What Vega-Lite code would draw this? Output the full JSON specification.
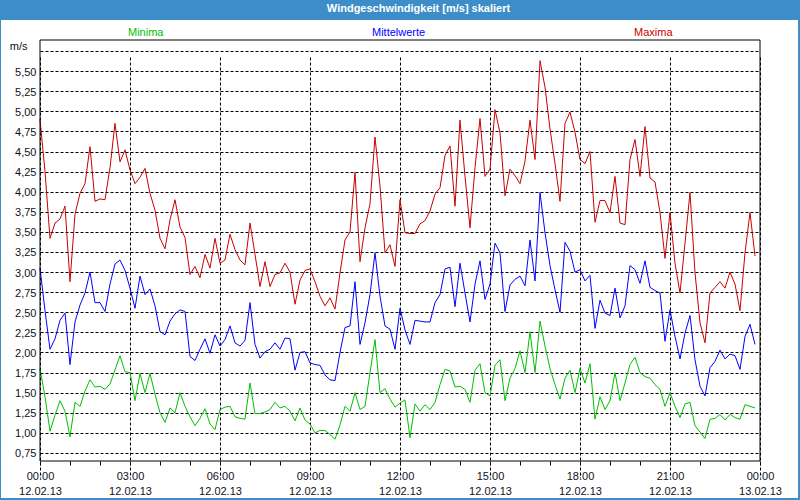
{
  "$schema": "https://vega.github.io/schema/vega-lite/v6.json",
  "autosize": {"type": "none"},
  "width": 797,
  "height": 478,
  "padding": {"top": 20, "left": 1, "right": 2, "bottom": 2},
  "background": "#3d8ec8",
  "config": {
    "view": {"fill": "white", "stroke": null},
    "font": "Liberation Sans"
  },
  "title": {
    "text": "Windgeschwindigkeit [m/s] skaliert",
    "color": "white",
    "fontSize": 11,
    "fontWeight": "bold",
    "font": "Liberation Sans",
    "anchor": "middle",
    "baseline": "middle",
    "offset": 10,
    "dx": 19,
    "dy": 10
  },
  "data": {
    "values": [
      {"t":"2013-02-12T00:00","Minima":1.80,"Mittelwerte":3.05,"Maxima":4.90},
      {"t":"2013-02-12T00:10","Minima":1.45,"Mittelwerte":2.52,"Maxima":4.25},
      {"t":"2013-02-12T00:20","Minima":1.02,"Mittelwerte":2.04,"Maxima":3.42},
      {"t":"2013-02-12T00:30","Minima":1.22,"Mittelwerte":2.17,"Maxima":3.61},
      {"t":"2013-02-12T00:40","Minima":1.40,"Mittelwerte":2.40,"Maxima":3.66},
      {"t":"2013-02-12T00:50","Minima":1.27,"Mittelwerte":2.49,"Maxima":3.82},
      {"t":"2013-02-12T01:00","Minima":0.95,"Mittelwerte":1.85,"Maxima":2.88},
      {"t":"2013-02-12T01:10","Minima":1.38,"Mittelwerte":2.38,"Maxima":3.72},
      {"t":"2013-02-12T01:20","Minima":1.33,"Mittelwerte":2.59,"Maxima":3.98},
      {"t":"2013-02-12T01:30","Minima":1.52,"Mittelwerte":2.74,"Maxima":4.10},
      {"t":"2013-02-12T01:40","Minima":1.66,"Mittelwerte":3.00,"Maxima":4.56},
      {"t":"2013-02-12T01:50","Minima":1.57,"Mittelwerte":2.62,"Maxima":3.88},
      {"t":"2013-02-12T02:00","Minima":1.58,"Mittelwerte":2.62,"Maxima":3.91},
      {"t":"2013-02-12T02:10","Minima":1.54,"Mittelwerte":2.51,"Maxima":3.90},
      {"t":"2013-02-12T02:20","Minima":1.61,"Mittelwerte":2.85,"Maxima":4.30},
      {"t":"2013-02-12T02:30","Minima":1.78,"Mittelwerte":3.10,"Maxima":4.85},
      {"t":"2013-02-12T02:40","Minima":1.96,"Mittelwerte":3.15,"Maxima":4.37},
      {"t":"2013-02-12T02:50","Minima":1.76,"Mittelwerte":3.02,"Maxima":4.52},
      {"t":"2013-02-12T03:00","Minima":1.75,"Mittelwerte":2.80,"Maxima":4.27},
      {"t":"2013-02-12T03:10","Minima":1.40,"Mittelwerte":2.55,"Maxima":4.10},
      {"t":"2013-02-12T03:20","Minima":1.74,"Mittelwerte":2.95,"Maxima":4.18},
      {"t":"2013-02-12T03:30","Minima":1.50,"Mittelwerte":2.72,"Maxima":4.29},
      {"t":"2013-02-12T03:40","Minima":1.74,"Mittelwerte":2.79,"Maxima":3.98},
      {"t":"2013-02-12T03:50","Minima":1.48,"Mittelwerte":2.58,"Maxima":3.77},
      {"t":"2013-02-12T04:00","Minima":1.25,"Mittelwerte":2.26,"Maxima":3.42},
      {"t":"2013-02-12T04:10","Minima":1.13,"Mittelwerte":2.22,"Maxima":3.29},
      {"t":"2013-02-12T04:20","Minima":1.31,"Mittelwerte":2.39,"Maxima":3.65},
      {"t":"2013-02-12T04:30","Minima":1.25,"Mittelwerte":2.48,"Maxima":3.90},
      {"t":"2013-02-12T04:40","Minima":1.50,"Mittelwerte":2.53,"Maxima":3.56},
      {"t":"2013-02-12T04:50","Minima":1.33,"Mittelwerte":2.51,"Maxima":3.43},
      {"t":"2013-02-12T05:00","Minima":1.20,"Mittelwerte":1.95,"Maxima":2.97},
      {"t":"2013-02-12T05:10","Minima":1.09,"Mittelwerte":1.90,"Maxima":3.07},
      {"t":"2013-02-12T05:20","Minima":1.18,"Mittelwerte":2.04,"Maxima":2.93},
      {"t":"2013-02-12T05:30","Minima":1.30,"Mittelwerte":2.17,"Maxima":3.22},
      {"t":"2013-02-12T05:40","Minima":1.11,"Mittelwerte":1.99,"Maxima":3.05},
      {"t":"2013-02-12T05:50","Minima":1.04,"Mittelwerte":2.22,"Maxima":3.42},
      {"t":"2013-02-12T06:00","Minima":1.29,"Mittelwerte":2.08,"Maxima":3.11},
      {"t":"2013-02-12T06:10","Minima":1.32,"Mittelwerte":2.16,"Maxima":3.15},
      {"t":"2013-02-12T06:20","Minima":1.33,"Mittelwerte":2.33,"Maxima":3.47},
      {"t":"2013-02-12T06:30","Minima":1.20,"Mittelwerte":2.12,"Maxima":3.28},
      {"t":"2013-02-12T06:40","Minima":1.18,"Mittelwerte":2.08,"Maxima":3.15},
      {"t":"2013-02-12T06:50","Minima":1.17,"Mittelwerte":2.15,"Maxima":3.09},
      {"t":"2013-02-12T07:00","Minima":1.62,"Mittelwerte":2.62,"Maxima":3.61},
      {"t":"2013-02-12T07:10","Minima":1.24,"Mittelwerte":2.10,"Maxima":3.22},
      {"t":"2013-02-12T07:20","Minima":1.24,"Mittelwerte":1.93,"Maxima":2.82},
      {"t":"2013-02-12T07:30","Minima":1.26,"Mittelwerte":2.01,"Maxima":3.13},
      {"t":"2013-02-12T07:40","Minima":1.29,"Mittelwerte":2.04,"Maxima":2.82},
      {"t":"2013-02-12T07:50","Minima":1.38,"Mittelwerte":2.12,"Maxima":2.97},
      {"t":"2013-02-12T08:00","Minima":1.31,"Mittelwerte":2.04,"Maxima":2.99},
      {"t":"2013-02-12T08:10","Minima":1.33,"Mittelwerte":2.18,"Maxima":3.11},
      {"t":"2013-02-12T08:20","Minima":1.27,"Mittelwerte":2.17,"Maxima":3.00},
      {"t":"2013-02-12T08:30","Minima":1.15,"Mittelwerte":1.78,"Maxima":2.60},
      {"t":"2013-02-12T08:40","Minima":1.31,"Mittelwerte":2.00,"Maxima":2.90},
      {"t":"2013-02-12T08:50","Minima":1.16,"Mittelwerte":2.01,"Maxima":3.02},
      {"t":"2013-02-12T09:00","Minima":1.11,"Mittelwerte":1.87,"Maxima":3.04},
      {"t":"2013-02-12T09:10","Minima":1.00,"Mittelwerte":1.85,"Maxima":2.88},
      {"t":"2013-02-12T09:20","Minima":1.03,"Mittelwerte":1.84,"Maxima":2.70},
      {"t":"2013-02-12T09:30","Minima":1.03,"Mittelwerte":1.72,"Maxima":2.58},
      {"t":"2013-02-12T09:40","Minima":0.98,"Mittelwerte":1.66,"Maxima":2.68},
      {"t":"2013-02-12T09:50","Minima":0.92,"Mittelwerte":1.65,"Maxima":2.54},
      {"t":"2013-02-12T10:00","Minima":1.10,"Mittelwerte":2.00,"Maxima":2.99},
      {"t":"2013-02-12T10:10","Minima":1.33,"Mittelwerte":2.31,"Maxima":3.40},
      {"t":"2013-02-12T10:20","Minima":1.27,"Mittelwerte":2.33,"Maxima":3.50},
      {"t":"2013-02-12T10:30","Minima":1.50,"Mittelwerte":2.88,"Maxima":4.24},
      {"t":"2013-02-12T10:40","Minima":1.29,"Mittelwerte":2.10,"Maxima":3.13},
      {"t":"2013-02-12T10:50","Minima":1.33,"Mittelwerte":2.37,"Maxima":3.55},
      {"t":"2013-02-12T11:00","Minima":1.75,"Mittelwerte":2.72,"Maxima":3.85},
      {"t":"2013-02-12T11:10","Minima":2.16,"Mittelwerte":3.24,"Maxima":4.68},
      {"t":"2013-02-12T11:20","Minima":1.50,"Mittelwerte":2.70,"Maxima":4.07},
      {"t":"2013-02-12T11:30","Minima":1.55,"Mittelwerte":2.33,"Maxima":3.24},
      {"t":"2013-02-12T11:40","Minima":1.42,"Mittelwerte":2.29,"Maxima":3.34},
      {"t":"2013-02-12T11:50","Minima":1.32,"Mittelwerte":2.04,"Maxima":3.07},
      {"t":"2013-02-12T12:00","Minima":1.37,"Mittelwerte":2.55,"Maxima":3.90},
      {"t":"2013-02-12T12:10","Minima":1.41,"Mittelwerte":2.28,"Maxima":3.49},
      {"t":"2013-02-12T12:20","Minima":0.94,"Mittelwerte":2.10,"Maxima":3.48},
      {"t":"2013-02-12T12:30","Minima":1.36,"Mittelwerte":2.40,"Maxima":3.48},
      {"t":"2013-02-12T12:40","Minima":1.27,"Mittelwerte":2.39,"Maxima":3.60},
      {"t":"2013-02-12T12:50","Minima":1.35,"Mittelwerte":2.38,"Maxima":3.64},
      {"t":"2013-02-12T13:00","Minima":1.29,"Mittelwerte":2.38,"Maxima":3.76},
      {"t":"2013-02-12T13:10","Minima":1.38,"Mittelwerte":2.62,"Maxima":3.97},
      {"t":"2013-02-12T13:20","Minima":1.60,"Mittelwerte":2.72,"Maxima":4.05},
      {"t":"2013-02-12T13:30","Minima":1.79,"Mittelwerte":3.04,"Maxima":4.45},
      {"t":"2013-02-12T13:40","Minima":1.77,"Mittelwerte":3.06,"Maxima":4.57},
      {"t":"2013-02-12T13:50","Minima":1.57,"Mittelwerte":2.57,"Maxima":3.82},
      {"t":"2013-02-12T14:00","Minima":1.58,"Mittelwerte":3.11,"Maxima":4.89},
      {"t":"2013-02-12T14:10","Minima":1.54,"Mittelwerte":2.74,"Maxima":4.19},
      {"t":"2013-02-12T14:20","Minima":1.38,"Mittelwerte":2.38,"Maxima":3.55},
      {"t":"2013-02-12T14:30","Minima":1.78,"Mittelwerte":2.85,"Maxima":4.30},
      {"t":"2013-02-12T14:40","Minima":1.86,"Mittelwerte":3.14,"Maxima":4.91},
      {"t":"2013-02-12T14:50","Minima":1.50,"Mittelwerte":2.66,"Maxima":4.19},
      {"t":"2013-02-12T15:00","Minima":1.46,"Mittelwerte":2.85,"Maxima":4.28},
      {"t":"2013-02-12T15:10","Minima":1.84,"Mittelwerte":3.36,"Maxima":5.02},
      {"t":"2013-02-12T15:20","Minima":1.91,"Mittelwerte":3.24,"Maxima":4.73},
      {"t":"2013-02-12T15:30","Minima":1.40,"Mittelwerte":2.51,"Maxima":3.95},
      {"t":"2013-02-12T15:40","Minima":1.68,"Mittelwerte":2.84,"Maxima":4.28},
      {"t":"2013-02-12T15:50","Minima":1.80,"Mittelwerte":2.91,"Maxima":4.20},
      {"t":"2013-02-12T16:00","Minima":2.02,"Mittelwerte":2.95,"Maxima":4.10},
      {"t":"2013-02-12T16:10","Minima":1.75,"Mittelwerte":2.83,"Maxima":4.38},
      {"t":"2013-02-12T16:20","Minima":2.26,"Mittelwerte":3.40,"Maxima":4.89},
      {"t":"2013-02-12T16:30","Minima":1.75,"Mittelwerte":2.89,"Maxima":4.40},
      {"t":"2013-02-12T16:40","Minima":2.39,"Mittelwerte":3.99,"Maxima":5.63},
      {"t":"2013-02-12T16:50","Minima":2.08,"Mittelwerte":3.49,"Maxima":5.30},
      {"t":"2013-02-12T17:00","Minima":1.80,"Mittelwerte":3.08,"Maxima":4.78},
      {"t":"2013-02-12T17:10","Minima":1.60,"Mittelwerte":2.78,"Maxima":4.35},
      {"t":"2013-02-12T17:20","Minima":1.42,"Mittelwerte":2.50,"Maxima":3.88},
      {"t":"2013-02-12T17:30","Minima":1.68,"Mittelwerte":3.37,"Maxima":4.85},
      {"t":"2013-02-12T17:40","Minima":1.78,"Mittelwerte":3.26,"Maxima":4.99},
      {"t":"2013-02-12T17:50","Minima":1.50,"Mittelwerte":3.00,"Maxima":4.74},
      {"t":"2013-02-12T18:00","Minima":1.80,"Mittelwerte":3.03,"Maxima":4.40},
      {"t":"2013-02-12T18:10","Minima":1.62,"Mittelwerte":2.89,"Maxima":4.35},
      {"t":"2013-02-12T18:20","Minima":1.86,"Mittelwerte":2.96,"Maxima":4.50},
      {"t":"2013-02-12T18:30","Minima":1.17,"Mittelwerte":2.30,"Maxima":3.62},
      {"t":"2013-02-12T18:40","Minima":1.45,"Mittelwerte":2.65,"Maxima":3.89},
      {"t":"2013-02-12T18:50","Minima":1.29,"Mittelwerte":2.49,"Maxima":3.89},
      {"t":"2013-02-12T19:00","Minima":1.40,"Mittelwerte":2.46,"Maxima":3.74},
      {"t":"2013-02-12T19:10","Minima":1.75,"Mittelwerte":2.80,"Maxima":4.19},
      {"t":"2013-02-12T19:20","Minima":1.40,"Mittelwerte":2.43,"Maxima":3.61},
      {"t":"2013-02-12T19:30","Minima":1.62,"Mittelwerte":2.58,"Maxima":3.59},
      {"t":"2013-02-12T19:40","Minima":1.85,"Mittelwerte":3.08,"Maxima":4.40},
      {"t":"2013-02-12T19:50","Minima":1.94,"Mittelwerte":3.03,"Maxima":4.65},
      {"t":"2013-02-12T20:00","Minima":1.75,"Mittelwerte":2.86,"Maxima":4.19},
      {"t":"2013-02-12T20:10","Minima":1.70,"Mittelwerte":3.14,"Maxima":4.81},
      {"t":"2013-02-12T20:20","Minima":1.68,"Mittelwerte":2.81,"Maxima":4.17},
      {"t":"2013-02-12T20:30","Minima":1.60,"Mittelwerte":2.77,"Maxima":4.12},
      {"t":"2013-02-12T20:40","Minima":1.54,"Mittelwerte":2.74,"Maxima":3.74},
      {"t":"2013-02-12T20:50","Minima":1.33,"Mittelwerte":2.14,"Maxima":3.17},
      {"t":"2013-02-12T21:00","Minima":1.50,"Mittelwerte":2.53,"Maxima":3.74},
      {"t":"2013-02-12T21:10","Minima":1.33,"Mittelwerte":2.20,"Maxima":3.11},
      {"t":"2013-02-12T21:20","Minima":1.19,"Mittelwerte":1.92,"Maxima":2.74},
      {"t":"2013-02-12T21:30","Minima":1.36,"Mittelwerte":2.24,"Maxima":3.36},
      {"t":"2013-02-12T21:40","Minima":1.38,"Mittelwerte":2.46,"Maxima":3.99},
      {"t":"2013-02-12T21:50","Minima":1.09,"Mittelwerte":1.91,"Maxima":2.99},
      {"t":"2013-02-12T22:00","Minima":1.01,"Mittelwerte":1.58,"Maxima":2.37},
      {"t":"2013-02-12T22:10","Minima":0.93,"Mittelwerte":1.46,"Maxima":2.12},
      {"t":"2013-02-12T22:20","Minima":1.17,"Mittelwerte":1.81,"Maxima":2.74},
      {"t":"2013-02-12T22:30","Minima":1.18,"Mittelwerte":1.89,"Maxima":2.81},
      {"t":"2013-02-12T22:40","Minima":1.23,"Mittelwerte":2.03,"Maxima":2.88},
      {"t":"2013-02-12T22:50","Minima":1.16,"Mittelwerte":1.92,"Maxima":2.80},
      {"t":"2013-02-12T23:00","Minima":1.23,"Mittelwerte":1.98,"Maxima":3.00},
      {"t":"2013-02-12T23:10","Minima":1.19,"Mittelwerte":1.96,"Maxima":2.85},
      {"t":"2013-02-12T23:20","Minima":1.17,"Mittelwerte":1.79,"Maxima":2.52},
      {"t":"2013-02-12T23:30","Minima":1.35,"Mittelwerte":2.20,"Maxima":3.24},
      {"t":"2013-02-12T23:40","Minima":1.33,"Mittelwerte":2.35,"Maxima":3.74},
      {"t":"2013-02-12T23:50","Minima":1.31,"Mittelwerte":2.10,"Maxima":3.20}
    ]
  },
  "layer": [
    {
      "transform": [{"fold": ["Minima", "Mittelwerte", "Maxima"], "as": ["Serie", "Wert"]}],
      "mark": {"type": "line", "strokeWidth": 1},
      "encoding": {
        "x": {
          "field": "t",
          "type": "temporal",
          "scale": {
            "domain": [{"year": 2013, "month": 2, "date": 12, "hours": 0}, {"year": 2013, "month": 2, "date": 13, "hours": 0}],
            "range": [39, 759],
            "nice": false
          },
          "axis": {
            "orient": "bottom",
            "offset": -37,
            "title": null,
            "domain": false,
            "tickCount": 24,
            "ticks": true,
            "tickSize": 4,
            "tickColor": "black",
            "grid": true,
            "gridColor": "black",
            "gridDash": [3, 2],
            "gridOpacity": {"condition": {"test": "(hours(datum.value) % 3) != 0", "value": 0}, "value": 1},
            "labelExpr": "(hours(datum.value) % 3) == 0 ? [timeFormat(datum.value, '%H:%M'), timeFormat(datum.value, '%d.%m.%y')] : ''",
            "labelOverlap": false,
            "labelFlush": false,
            "labelBound": false,
            "labelFont": "Liberation Sans",
            "labelFontSize": 11,
            "labelColor": "#111122",
            "labelPadding": 5,
            "labelBaseline": "top",
            "labelLineHeight": 15
          }
        },
        "y": {
          "field": "Wert",
          "type": "quantitative",
          "scale": {"domain": [0.65, 5.887], "range": [441, 20], "nice": false, "zero": false},
          "axis": {
            "orient": "left",
            "offset": -39,
            "values": [0.75, 1, 1.25, 1.5, 1.75, 2, 2.25, 2.5, 2.75, 3, 3.25, 3.5, 3.75, 4, 4.25, 4.5, 4.75, 5, 5.25, 5.5, 5.75],
            "tickCount": 25,
            "labelExpr": "datum.value > 5.7 ? '' : replace(format(datum.value, '.2f'), '.', ',')",
            "domain": false,
            "ticks": false,
            "grid": true,
            "gridColor": "black",
            "gridDash": [3, 2],
            "labelOverlap": false,
            "labelFlush": false,
            "labelBound": false,
            "labelFont": "Liberation Sans",
            "labelFontSize": 11,
            "labelColor": "#111122",
            "labelPadding": 4,
            "labelOffset": 1,
            "title": "m/s",
            "titleAngle": 0,
            "titleAlign": "right",
            "titleBaseline": "middle",
            "titleX": -13,
            "titleY": 26,
            "titleFont": "Liberation Sans",
            "titleFontSize": 11,
            "titleFontWeight": "normal",
            "titleColor": "#111122"
          }
        },
        "color": {
          "field": "Serie",
          "type": "nominal",
          "scale": {"domain": ["Minima", "Mittelwerte", "Maxima"], "range": ["#00c000", "#0000ff", "#c80000"]},
          "legend": {
            "orient": "none",
            "legendX": 116,
            "legendY": 7,
            "direction": "horizontal",
            "title": null,
            "padding": 0,
            "symbolSize": 1,
            "symbolOpacity": 0,
            "labelOffset": 0,
            "columnPadding": 197,
            "labelFont": "Liberation Sans",
            "labelFontSize": 11,
            "encode": {"labels": {"update": {"fill": {"scale": "color", "field": "value"}}}}
          }
        }
      }
    },
    {
      "data": {"values": [{"rahmen": 1}]},
      "mark": {"type": "rect", "fill": null, "stroke": "black", "strokeWidth": 1},
      "encoding": {
        "x": {"datum": {"year": 2013, "month": 2, "date": 12, "hours": 0}, "type": "temporal"},
        "x2": {"datum": {"year": 2013, "month": 2, "date": 13, "hours": 0}},
        "y": {"datum": 0.65, "type": "quantitative"},
        "y2": {"datum": 5.887}
      }
    }
  ]
}
